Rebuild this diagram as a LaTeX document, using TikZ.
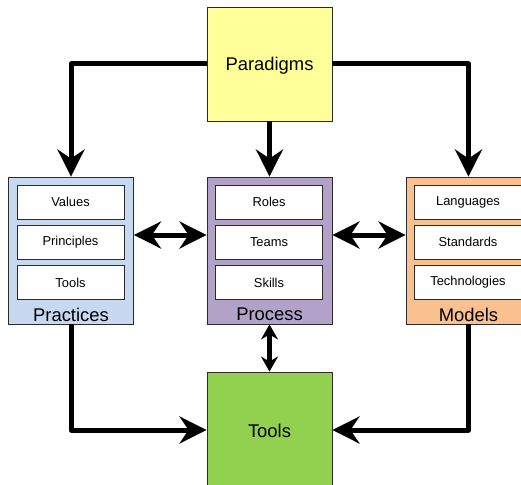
\documentclass[tikz,border=0pt]{standalone}
\usepackage{fontspec}
\setmainfont{Liberation Sans}
\usetikzlibrary{arrows.meta}
\definecolor{paradigmfill}{HTML}{FFFF99}
\definecolor{practicefill}{HTML}{C6D9F1}
\definecolor{processfill}{HTML}{B3A2C7}
\definecolor{modelfill}{HTML}{FAC090}
\definecolor{toolfill}{HTML}{92D050}
\definecolor{edge}{HTML}{2B2B2B}
\tikzset{
  bigbox/.style={draw=edge, line width=0.9pt, minimum width=125pt, minimum height=114pt,
    inner sep=0pt, font=\fontsize{18.4}{20}\selectfont},
  group/.style={draw=edge, line width=0.9pt, minimum width=125pt, minimum height=147pt,
    inner sep=0pt},
  item/.style={draw=edge, fill=white, line width=0.9pt, minimum width=107pt,
    minimum height=34pt, inner sep=0pt, font=\fontsize{12.9}{14}\selectfont},
  caption/.style={font=\fontsize{18.4}{20}\selectfont, inner sep=0pt},
  conn/.style={line width=5pt, line join=round,
    -{Stealth[length=27pt,width=27pt,inset=9pt]}},
  twoway/.style={line width=5pt,
    {Stealth[length=27pt,width=27pt,inset=9pt]}-{Stealth[length=27pt,width=27pt,inset=9pt]}},
  shortway/.style={line width=5pt,
    {Stealth[length=15pt,width=17pt,inset=5pt]}-{Stealth[length=15pt,width=17pt,inset=5pt]}}
}
\begin{document}
\begin{tikzpicture}[x=1pt,y=-1pt]
  \clip (0,0) rectangle (521,484);

  % top and bottom boxes
  \node[bigbox, fill=paradigmfill] (para) at (269.5,64) {};
  \node[caption] (paralabel) at (269.5,65.5) {Paradigms};
  \node[bigbox, fill=toolfill, minimum height=116pt] (tools) at (269.5,430) {};
  \node[caption] (toolslabel) at (269.5,431) {Tools};

  % Practices group
  \node[group, fill=practicefill] (prac) at (71,250.5) {};
  \node[item] (values) at (70.5,202) {Values};
  \node[item] (principles) at (70.5,242) {Principles};
  \node[item] (ptools) at (70.5,282.5) {Tools};
  \node[caption] (praclabel) at (71,314.5) {Practices};

  % Process group
  \node[group, fill=processfill] (proc) at (269.5,250.5) {};
  \node[item] (roles) at (269,202) {Roles};
  \node[item] (teams) at (269,242) {Teams};
  \node[item] (skills) at (269,282.5) {Skills};
  \node[caption] (proclabel) at (269.5,314.5) {Process};

  % Models group
  \node[group, fill=modelfill] (models) at (468.5,250.5) {};
  \node[item] (languages) at (468,202) {Languages};
  \node[item] (standards) at (468,242) {Standards};
  \node[item] (technologies) at (468,282.5) {Technologies};
  \node[caption] (modlabel) at (468.5,314.5) {Models};

  % connectors
  \coordinate (row) at (0,235);
  \draw[conn] (para.west) -| (prac.north);
  \draw[conn] (para.east) -| (models.north);
  \draw[conn] (para.south) -- (proc.north);
  \draw[twoway] (prac.east |- row) -- (proc.west |- row);
  \draw[twoway] (proc.east |- row) -- (models.west |- row);
  \draw[shortway] (proc.south) -- (tools.north);
  \draw[conn] (prac.south) |- (tools.west);
  \draw[conn] (models.south) |- (tools.east);
\end{tikzpicture}
\end{document}
